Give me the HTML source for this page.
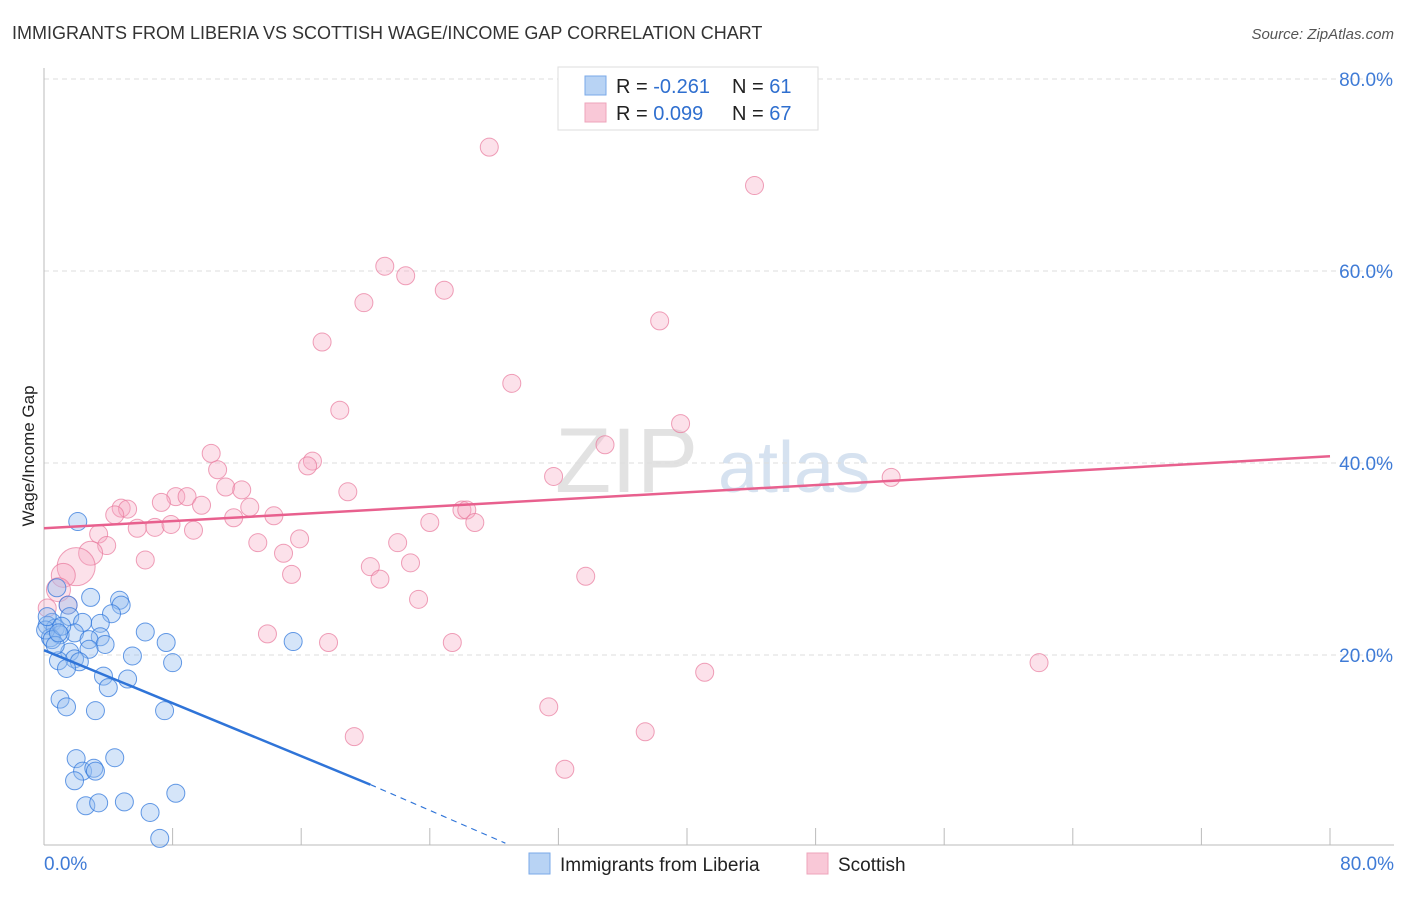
<!DOCTYPE html>
<html><head><meta charset="utf-8"><style>
body{margin:0;background:#fff;font-family:"Liberation Sans",sans-serif;}
svg text{font-family:"Liberation Sans",sans-serif;}
</style></head><body>
<svg id="chart" width="1406" height="892" viewBox="0 0 1406 892">
<text x="12" y="39" font-size="18" fill="#333">IMMIGRANTS FROM LIBERIA VS SCOTTISH WAGE/INCOME GAP CORRELATION CHART</text>
<text x="1394" y="39" font-size="15" fill="#555" text-anchor="end" font-style="italic">Source: ZipAtlas.com</text>
<text x="34" y="456" font-size="17" fill="#222" text-anchor="middle" transform="rotate(-90 34 456)">Wage/Income Gap</text>
<g><text x="555" y="492" font-size="92" fill="#e2e2e2" font-family="Liberation Serif,serif">ZIP</text><text x="718" y="492" font-size="72" fill="#d6e2f0">atlas</text></g>
<g id="grid"></g><g id="axes"></g><g id="marks"></g><g id="lines"></g>
<g>
<rect x="558" y="67" width="260" height="63" fill="#fff" stroke="#ddd"/>
<rect x="585" y="76" width="21" height="19" fill="#b8d3f4" stroke="#7aaae8"/>
<rect x="585" y="103" width="21" height="19" fill="#f9c8d7" stroke="#eea4bb"/>
<text x="616" y="93" font-size="20" fill="#222">R = <tspan fill="#2f6fcf">-0.261</tspan></text>
<text x="732" y="93" font-size="20" fill="#222">N = <tspan fill="#2f6fcf"> 61</tspan></text>
<text x="616" y="120" font-size="20" fill="#222">R = <tspan fill="#2f6fcf"> 0.099</tspan></text>
<text x="732" y="120" font-size="20" fill="#222">N = <tspan fill="#2f6fcf">67</tspan></text>
</g>
<g>
<rect x="529" y="853" width="21" height="21" fill="#b8d3f4" stroke="#7aaae8"/>
<text x="560" y="871" font-size="19" fill="#222">Immigrants from Liberia</text>
<rect x="807" y="853" width="21" height="21" fill="#f9c8d7" stroke="#eea4bb"/>
<text x="838" y="871" font-size="19" fill="#222">Scottish</text>
</g>
</svg>
<script>
const yTicks=[20,40,60,80];
const yTickLabels=["20.0%","40.0%","60.0%","80.0%"];
const xTickLabels=["0.0%","80.0%"];
const blueX=[2.1,0.8,2.9,4.7,4.8,1.5,4.2,1.6,2.4,3.5,0.5,0.2,0.7,6.3,1.9,1.0,3.5,2.8,0.4,7.6,15.5,3.8,2.8,1.6,5.5,1.9,0.9,2.2,8.0,1.4,3.7,5.2,4.0,1.0,1.4,3.2,7.5,2.0,4.4,2.4,3.1,3.2,1.9,2.6,3.4,5.0,8.2,6.6,7.2,0.1,0.5,0.7,0.2,1.1,0.9];
const blueY=[33.9,27.0,26.0,25.7,25.2,25.2,24.3,24.0,23.4,23.3,23.4,23.1,22.8,22.4,22.3,22.1,21.9,21.6,21.8,21.3,21.4,21.1,20.6,20.3,19.9,19.6,19.4,19.3,19.2,18.6,17.8,17.5,16.6,15.4,14.6,14.2,14.2,9.2,9.3,7.9,8.2,7.9,6.9,4.3,4.6,4.7,5.6,3.6,0.9,22.6,21.6,21.0,24.0,23.0,22.3];
const pinkX=[27.7,44.2,21.2,22.5,24.9,19.9,38.3,17.3,29.1,18.4,39.6,34.9,10.4,16.7,16.4,10.8,31.7,52.7,11.3,12.3,18.9,8.2,8.9,7.3,9.8,4.8,5.2,12.8,26.0,26.3,4.4,11.8,14.3,24.0,26.8,5.8,6.9,7.9,9.3,3.4,15.9,13.3,22.0,3.9,14.9,2.9,6.3,22.8,20.3,20.9,33.7,15.4,2.0,1.2,0.9,1.5,23.3,0.2,13.9,17.7,25.4,61.9,41.1,31.4,37.4,19.3,32.4];
const pinkY=[72.9,68.9,60.5,59.5,58.0,56.7,54.8,52.6,48.3,45.5,44.1,41.9,41.0,40.2,39.7,39.3,38.6,38.5,37.5,37.2,37.0,36.5,36.5,35.9,35.6,35.3,35.2,35.4,35.1,35.1,34.6,34.3,34.5,33.8,33.8,33.2,33.3,33.6,33.0,32.6,32.1,31.7,31.7,31.4,30.6,30.6,29.9,29.6,29.2,27.9,28.2,28.4,29.2,28.3,26.8,25.2,25.8,24.9,22.2,21.3,21.3,19.2,18.2,14.6,12.0,11.5,8.1];
const pinkBig=[0,0,0,0,0,0,0,0,0,0,0,0,0,0,0,0,0,0,0,0,0,0,0,0,0,0,0,0,0,0,0,0,0,0,0,0,0,0,0,0,0,0,0,0,0,1,0,0,0,0,0,0,2,1,1,0,0,0,0,0,0,0,0,0,0,0,0];
const blueTrend=[[0,20.5],[20.3,6.5],[28.7,0.4]];
const pinkTrend=[[0,33.2],[80,40.7]];
const NS="http://www.w3.org/2000/svg";
const xs=v=>44+v/80*1286, ys=v=>847-v*9.6;
function mk(t,a,p){const e=document.createElementNS(NS,t);for(const k in a)e.setAttribute(k,a[k]);p.appendChild(e);return e;}
const grid=document.getElementById('grid'),axes=document.getElementById('axes'),marks=document.getElementById('marks'),lines=document.getElementById('lines');
yTicks.forEach((t,i)=>{
 const g=mk('line',{x1:44,x2:1394,y1:ys(t),y2:ys(t),stroke:'#ddd','stroke-dasharray':'5,4'},grid);
 
 
 const l=mk('text',{x:1393,y:ys(t)+7,'font-size':19,fill:'#3f7bd6','text-anchor':'end'},axes);l.textContent=yTickLabels[i];
 
 
});
const ax=mk('line',{x1:44,x2:44,y1:68,y2:845,stroke:'#bbb'},axes);


const bx=mk('line',{x1:44,x2:1394,y1:845,y2:845,stroke:'#bbb'},axes);


for(let k=1;k<=10;k++){const t=mk('line',{x1:xs(k*8),x2:xs(k*8),y1:828,y2:845,stroke:'#bbb'},axes);
 
 }
const x0=mk('text',{x:44,y:870,'font-size':19,fill:'#3f7bd6'},axes);x0.textContent=xTickLabels[0];


const x1=mk('text',{x:1394,y:870,'font-size':19,fill:'#3f7bd6','text-anchor':'end'},axes);x1.textContent=xTickLabels[1];


pinkX.forEach((v,i)=>{const r=[9,12,19][pinkBig[i]];
 const c=mk('circle',{cx:xs(v),cy:ys(pinkY[i]),r:r,fill:'rgba(246,170,195,0.35)',stroke:'rgba(232,120,155,0.7)','stroke-width':1},marks);
 
 });
blueX.forEach((v,i)=>{
 const c=mk('circle',{cx:xs(v),cy:ys(blueY[i]),r:9,fill:'rgba(150,190,240,0.4)',stroke:'rgba(50,120,220,0.75)','stroke-width':1},marks);
 
 });
const pl=mk('line',{x1:xs(pinkTrend[0][0]),y1:ys(pinkTrend[0][1]),x2:xs(pinkTrend[1][0]),y2:ys(pinkTrend[1][1]),stroke:'#e8608e','stroke-width':2.5},lines);


const bl=mk('line',{x1:xs(blueTrend[0][0]),y1:ys(blueTrend[0][1]),x2:xs(blueTrend[1][0]),y2:ys(blueTrend[1][1]),stroke:'#2f74d8','stroke-width':2.5},lines);


const bd=mk('line',{x1:xs(blueTrend[1][0]),y1:ys(blueTrend[1][1]),x2:xs(blueTrend[2][0]),y2:ys(blueTrend[2][1]),stroke:'#2f74d8','stroke-width':1.2,'stroke-dasharray':'6,5'},lines);


</script>
</body></html>
